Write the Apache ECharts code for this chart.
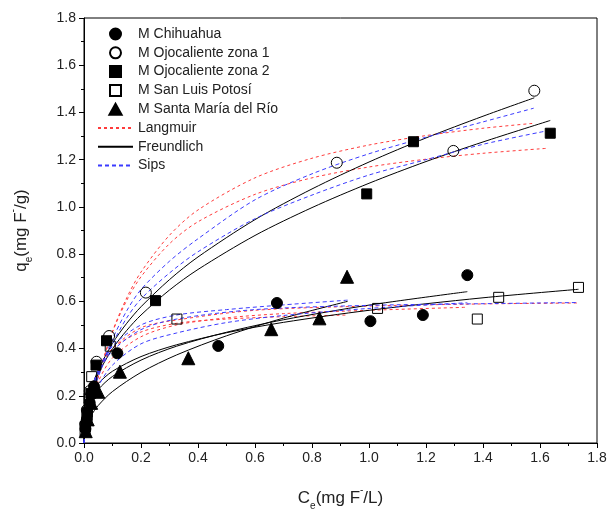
<!DOCTYPE html>
<html>
<head>
<meta charset="utf-8">
<script src="https://cdn.jsdelivr.net/npm/echarts@6/dist/echarts.min.js"></script>
<style>html,body{margin:0;padding:0;background:#fff;}#c{width:613px;height:518px;}</style>
</head>
<body>
<div id="c"></div>
<script>
// ---- measured points ----
const chihuahua = [[0.005,0.06],[0.01,0.10],[0.02,0.17],[0.035,0.24],[0.117,0.38],[0.471,0.411],[0.677,0.593],[1.005,0.516],[1.189,0.542],[1.345,0.711]];
const ojo1 = [[0.004,0.08],[0.01,0.14],[0.02,0.22],[0.044,0.344],[0.088,0.453],[0.217,0.637],[0.887,1.187],[1.296,1.237],[1.58,1.492]];
const ojo2 = [[0.005,0.07],[0.012,0.13],[0.024,0.21],[0.042,0.33],[0.079,0.433],[0.251,0.603],[0.992,1.055],[1.156,1.276],[1.636,1.312]];
const slp = [[0.004,0.05],[0.01,0.12],[0.018,0.19],[0.027,0.281],[0.092,0.41],[0.326,0.525],[1.03,0.57],[1.38,0.525],[1.455,0.617],[1.735,0.659]];
const santaMaria = [[0.006,0.05],[0.013,0.10],[0.025,0.17],[0.05,0.217],[0.126,0.302],[0.366,0.359],[0.657,0.482],[0.826,0.528],[0.923,0.704]];

// ---- fitted curves ----
const langmuirOjo1 = [[0,0],[0.01,0.065],[0.025,0.153],[0.05,0.279],[0.1,0.472],[0.15,0.615],[0.2,0.724],[0.3,0.880],[0.4,0.987],[0.6,1.123],[0.8,1.206],[1.0,1.262],[1.2,1.302],[1.4,1.333],[1.578,1.354]];
const langmuirOjo2 = [[0,0],[0.01,0.067],[0.025,0.157],[0.05,0.283],[0.1,0.470],[0.15,0.604],[0.2,0.704],[0.3,0.844],[0.4,0.937],[0.6,1.053],[0.8,1.123],[1.0,1.169],[1.2,1.202],[1.4,1.227],[1.624,1.248]];
const langmuirChih = [[0,0],[0.01,0.08],[0.025,0.16],[0.05,0.26],[0.1,0.36],[0.2,0.45],[0.325,0.50],[0.5,0.53],[0.7,0.548],[1.0,0.562],[1.345,0.575]];
const langmuirSlp = [[0,0],[0.01,0.10],[0.025,0.20],[0.05,0.305],[0.1,0.40],[0.2,0.488],[0.325,0.521],[0.6,0.562],[1.0,0.58],[1.4,0.589],[1.735,0.593]];
const langmuirSm = [[0,0],[0.01,0.10],[0.025,0.20],[0.05,0.30],[0.1,0.40],[0.2,0.47],[0.325,0.507],[0.5,0.525],[0.7,0.535],[0.923,0.542]];

const freundOjo1 = [[0,0],[0.005,0.110],[0.01,0.150],[0.025,0.226],[0.05,0.309],[0.1,0.422],[0.15,0.507],[0.2,0.577],[0.3,0.692],[0.4,0.788],[0.6,0.946],[0.8,1.076],[1.0,1.19],[1.2,1.292],[1.4,1.384],[1.58,1.462]];
const freundOjo2 = [[0,0],[0.005,0.107],[0.01,0.145],[0.025,0.217],[0.05,0.294],[0.1,0.399],[0.15,0.477],[0.2,0.542],[0.3,0.648],[0.4,0.735],[0.6,0.879],[0.8,0.997],[1.0,1.10],[1.2,1.192],[1.4,1.275],[1.636,1.366]];
const freundChih = [[0,0],[0.005,0.110],[0.01,0.136],[0.025,0.182],[0.05,0.227],[0.1,0.282],[0.2,0.351],[0.325,0.41],[0.5,0.469],[0.7,0.522],[1.0,0.584],[1.345,0.641]];
const freundSlp = [[0,0],[0.005,0.137],[0.01,0.164],[0.025,0.21],[0.05,0.252],[0.1,0.304],[0.2,0.366],[0.325,0.416],[0.5,0.467],[0.7,0.511],[1.0,0.562],[1.4,0.615],[1.735,0.651]];
const freundSm = [[0,0],[0.005,0.056],[0.01,0.077],[0.025,0.116],[0.05,0.159],[0.1,0.218],[0.2,0.299],[0.325,0.373],[0.5,0.454],[0.7,0.529],[0.925,0.60]];

const sipsOjo1 = [[0,0],[0.01,0.11],[0.025,0.19],[0.05,0.29],[0.1,0.44],[0.15,0.56],[0.2,0.65],[0.3,0.77],[0.4,0.865],[0.6,1.03],[0.8,1.14],[1.0,1.225],[1.2,1.295],[1.4,1.36],[1.578,1.418]];
const sipsOjo2 = [[0,0],[0.01,0.10],[0.025,0.18],[0.05,0.28],[0.1,0.42],[0.15,0.53],[0.2,0.61],[0.3,0.72],[0.4,0.81],[0.6,0.95],[0.8,1.05],[1.0,1.135],[1.2,1.20],[1.4,1.265],[1.624,1.322]];
const sipsChih = [[0,0],[0.01,0.09],[0.025,0.16],[0.05,0.24],[0.1,0.33],[0.2,0.42],[0.325,0.466],[0.5,0.51],[0.7,0.54],[1.0,0.57],[1.345,0.594]];
const sipsSlp = [[0,0],[0.01,0.11],[0.025,0.21],[0.05,0.30],[0.1,0.39],[0.2,0.48],[0.325,0.525],[0.6,0.565],[1.0,0.583],[1.4,0.59],[1.735,0.595]];
const sipsSm = [[0,0],[0.01,0.13],[0.025,0.22],[0.05,0.31],[0.1,0.41],[0.2,0.50],[0.325,0.542],[0.5,0.565],[0.7,0.585],[0.925,0.605]];

const xTicks = {min: 0, max: 1.8, interval: 0.2};
const yTicks = {min: 0, max: 1.8, interval: 0.2};

const pointNames = ['M Chihuahua','M Ojocaliente zona 1','M Ojocaliente zona 2','M San Luis Potosí','M Santa María del Río'];
const fitNames = ['Langmuir','Freundlich','Sips'];

const FONT = 'Liberation Sans, Arial, sans-serif';
const chart = echarts.init(document.getElementById('c'), null, {renderer: 'canvas'});

const SQUARE = 'path://M0,0H10V10H0Z';
const TRIANGLE = 'path://M5,0L10,9H0Z';

function scatter(name, data, symbol, filled, size) {
  return {
    name, type: 'scatter', data, symbol, symbolSize: size, z: 5,
    itemStyle: filled ? {color: '#000', borderColor: '#000', borderWidth: 1, opacity: 1}
                      : {color: 'rgba(255,255,255,0)', borderColor: '#000', borderWidth: 1, opacity: 1}
  };
}
function fit(name, data, color, type) {
  return {
    name, type: 'line', data, symbol: 'none', smooth: 0.3, z: 3,
    lineStyle: {color, width: 1, type}, itemStyle: {color}
  };
}
const redDot = [3, 3], blueDash = [4, 3];
const series = [
  scatter(pointNames[0], chihuahua, 'circle', true, 11),
  scatter(pointNames[1], ojo1, 'circle', false, 11),
  scatter(pointNames[2], ojo2, 'rect', true, 10),
  scatter(pointNames[3], slp, 'rect', false, 10),
  scatter(pointNames[4], santaMaria, 'triangle', true, 13),
  fit(fitNames[0], langmuirOjo1, '#ff3b3b', redDot),
  fit(fitNames[0], langmuirOjo2, '#ff3b3b', redDot),
  fit(fitNames[0], langmuirChih, '#ff3b3b', redDot),
  fit(fitNames[0], langmuirSlp, '#ff3b3b', redDot),
  fit(fitNames[0], langmuirSm, '#ff3b3b', redDot),
  fit(fitNames[1], freundOjo1, '#000', 'solid'),
  fit(fitNames[1], freundOjo2, '#000', 'solid'),
  fit(fitNames[1], freundChih, '#000', 'solid'),
  fit(fitNames[1], freundSlp, '#000', 'solid'),
  fit(fitNames[1], freundSm, '#000', 'solid'),
  fit(fitNames[2], sipsOjo1, '#3b3bff', blueDash),
  fit(fitNames[2], sipsOjo2, '#3b3bff', blueDash),
  fit(fitNames[2], sipsChih, '#3b3bff', blueDash),
  fit(fitNames[2], sipsSlp, '#3b3bff', blueDash),
  fit(fitNames[2], sipsSm, '#3b3bff', blueDash)
];

const axisCommon = {
  axisLine: {show: true, onZero: false, lineStyle: {color: '#000', width: 1}},
  axisTick: {show: true, inside: false, length: 5, lineStyle: {color: '#000'}},
  minorTick: {show: true, splitNumber: 2, length: 3, lineStyle: {color: '#000'}},
  splitLine: {show: false},
  minorSplitLine: {show: false},
  axisLabel: {color: '#222', fontSize: 14, fontFamily: FONT, formatter: v => v.toFixed(1)}
};
const nameRich = {
  a: {fontSize: 17, fontFamily: FONT, color: '#222', lineHeight: 26, verticalAlign: 'middle'},
  s: {fontSize: 10, fontFamily: FONT, color: '#222', lineHeight: 26, verticalAlign: 'bottom'},
  p: {fontSize: 10, fontFamily: FONT, color: '#222', lineHeight: 26, verticalAlign: 'top'}
};
const hiddenSym = {opacity: 0};

chart.setOption({
  animation: false,
  backgroundColor: '#fff',
  grid: {left: 82, right: 16, top: 18, bottom: 75, show: true, borderColor: '#000', borderWidth: 1, backgroundColor: 'transparent'},
  legend: {
    orient: 'vertical', left: 92, top: 22, itemWidth: 35, itemHeight: 11, itemGap: 4.8,
    data: [
      {name: pointNames[0], icon: 'circle'},
      {name: pointNames[1], icon: 'circle'},
      {name: pointNames[2], icon: SQUARE},
      {name: pointNames[3], icon: SQUARE},
      {name: pointNames[4], icon: TRIANGLE},
      {name: fitNames[0], itemStyle: hiddenSym},
      {name: fitNames[1], itemStyle: hiddenSym},
      {name: fitNames[2], itemStyle: hiddenSym}
    ],
    textStyle: {fontSize: 14, fontFamily: FONT, color: '#222'}
  },
  xAxis: Object.assign({
    type: 'value', min: xTicks.min, max: xTicks.max, interval: xTicks.interval,
    name: '{a|C}{s|e}{a|(mg F}{p|-}{a|/L)}', nameLocation: 'middle', nameGap: 42,
    nameTextStyle: {rich: nameRich}
  }, axisCommon),
  yAxis: Object.assign({
    type: 'value', min: yTicks.min, max: yTicks.max, interval: yTicks.interval,
    name: '{a|q}{s|e}{a|(mg F}{p|-}{a|/g)}', nameLocation: 'middle', nameGap: 50, nameRotate: 90,
    nameTextStyle: {rich: nameRich}
  }, axisCommon),
  series
});
</script>
</body>
</html>
